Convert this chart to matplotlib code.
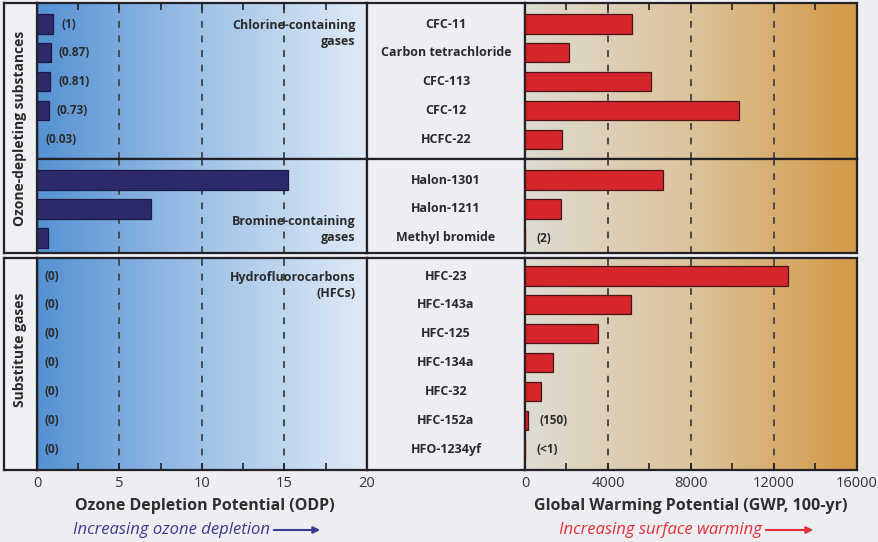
import numpy as np
import matplotlib
matplotlib.use("Agg")
import matplotlib.pyplot as plt
from matplotlib.colors import LinearSegmentedColormap

plt.rcParams['font.family'] = ['Open Sans', 'DejaVu Sans']

# ---------------- data ----------------
cl_names = ["CFC-11", "Carbon tetrachloride", "CFC-113", "CFC-12", "HCFC-22"]
cl_odp = [1.0, 0.87, 0.81, 0.73, 0.03]
cl_odp_labels = ["(1)", "(0.87)", "(0.81)", "(0.73)", "(0.03)"]
cl_gwp = [5160, 2110, 6060, 10300, 1780]
cl_gwp_labels = ["", "", "", "", ""]

br_names = ["Halon-1301", "Halon-1211", "Methyl bromide"]
br_odp = [15.2, 6.9, 0.66]
br_odp_labels = ["", "", ""]
br_gwp = [6670, 1750, 2]
br_gwp_labels = ["", "", "(2)"]

hfc_names = ["HFC-23", "HFC-143a", "HFC-125", "HFC-134a", "HFC-32", "HFC-152a", "HFO-1234yf"]
hfc_odp = [0, 0, 0, 0, 0, 0, 0]
hfc_odp_labels = ["(0)"] * 7
hfc_gwp = [12690, 5100, 3500, 1360, 750, 150, 1]
hfc_gwp_labels = ["", "", "", "", "", "(150)", "(<1)"]

group_labels = ["Chlorine-containing\ngases", "Bromine-containing\ngases", "Hydrofluorocarbons\n(HFCs)"]
side_labels = ["Ozone-depleting substances", "Substitute gases"]
odp_ticks = [0, 5, 10, 15, 20]
gwp_ticks = [0, 4000, 8000, 12000, 16000]

# ---------------- layout ----------------
W, H = 879, 542
fig = plt.figure(figsize=(W / 100, H / 100), dpi=100)
fig.patch.set_facecolor('#ededf2')


def rect(x0, y0, x1, y1):
    return [x0 / W, 1 - y1 / H, (x1 - x0) / W, (y1 - y0) / H]


XL0, XL1 = 4, 37
XO1 = 367
XG0, XG1 = 525, 857
panels = [
    dict(y0=3, y1=159, first=24, pitch=28.8, names=cl_names, odp=cl_odp, odpl=cl_odp_labels,
         gwp=cl_gwp, gwpl=cl_gwp_labels, group=group_labels[0], gpos='top'),
    dict(y0=159, y1=253, first=180, pitch=29.0, names=br_names, odp=br_odp, odpl=br_odp_labels,
         gwp=br_gwp, gwpl=br_gwp_labels, group=group_labels[1], gpos='bottom'),
    dict(y0=258, y1=470, first=276, pitch=28.9, names=hfc_names, odp=hfc_odp, odpl=hfc_odp_labels,
         gwp=hfc_gwp, gwpl=hfc_gwp_labels, group=group_labels[2], gpos='top'),
]

blue_cmap = LinearSegmentedColormap.from_list('b', ['#5591d2', '#9fc2e8', '#e0eaf6'])
tan_cmap = LinearSegmentedColormap.from_list('t', ['#dedcd3', '#dcc39a', '#d39946'])
grad = np.linspace(0, 1, 256).reshape(1, -1)

EDGE = '#222228'
LW = 1.6
TXT = '#2a2a2a'
DASH = '#4a4a4a'
NAVY = '#2d2a6c'
RED = '#d5262b'
WT = 'bold'


def style_spines(ax):
    for s in ax.spines.values():
        s.set_color(EDGE)
        s.set_linewidth(LW)


for i, p in enumerate(panels):
    n = len(p['names'])
    ylim = ((p['y1'] - p['first']) / p['pitch'], -(p['first'] - p['y0']) / p['pitch'])
    ypos = np.arange(n)

    # ----- ODP axes -----
    ax = fig.add_axes(rect(XL1, p['y0'], XO1, p['y1']))
    ax.imshow(grad, cmap=blue_cmap, aspect='auto', extent=[0, 20, ylim[0], ylim[1]], zorder=0)
    ax.set_xlim(0, 20)
    ax.set_ylim(*ylim)
    for v in [5, 10, 15]:
        ax.axvline(v, color=DASH, lw=1.4, ls=(0, (3.5, 4)), zorder=1)
    ax.barh(ypos, p['odp'], height=0.66, color=NAVY, edgecolor='#1c1a45', lw=0.9, zorder=3)
    for y, v, lab in zip(ypos, p['odp'], p['odpl']):
        if lab:
            ax.annotate(lab, (v, y), xytext=(5.5, 0), textcoords='offset points',
                        ha='left', va='center', fontsize=8.5, fontweight=WT, color=TXT, zorder=4)
    if p['gpos'] == 'top':
        gy = 0.33
    else:
        gy = n - 1 - 0.3
    ax.text(19.3, gy, p['group'], ha='right', va='center', fontsize=9, fontweight=WT,
            color=TXT, linespacing=1.25, zorder=4)
    style_spines(ax)
    ax.set_yticks([])
    ax.set_xticks(odp_ticks)
    ax.set_xticks(np.arange(2.5, 20, 5), minor=True)
    if i == 2:
        ax.tick_params(axis='x', which='both', direction='in', length=5, width=1.2,
                       color=EDGE, labelsize=10.5, labelcolor='#333333', pad=4)
    elif i == 0:
        ax.tick_params(axis='x', which='both', direction='in', length=5, width=1.2,
                       color=EDGE, bottom=False, top=True, labelbottom=False)
    else:
        ax.tick_params(axis='x', which='both', bottom=False, labelbottom=False)

    # ----- middle labels -----
    axm = fig.add_axes(rect(XO1, p['y0'], XG0, p['y1']))
    axm.set_facecolor('#edeef3')
    axm.set_xlim(0, 1)
    axm.set_ylim(*ylim)
    for y, name in zip(ypos, p['names']):
        axm.text(0.5, y, name, ha='center', va='center', fontsize=9,
                 fontweight=WT, color=TXT)
    style_spines(axm)
    axm.set_xticks([])
    axm.set_yticks([])

    # ----- GWP axes -----
    axg = fig.add_axes(rect(XG0, p['y0'], XG1, p['y1']))
    axg.imshow(grad, cmap=tan_cmap, aspect='auto', extent=[0, 16000, ylim[0], ylim[1]], zorder=0)
    axg.set_xlim(0, 16000)
    axg.set_ylim(*ylim)
    for v in [4000, 8000, 12000]:
        axg.axvline(v, color=DASH, lw=1.4, ls=(0, (3.5, 4)), zorder=1)
    axg.barh(ypos, p['gwp'], height=0.66, color=RED, edgecolor='#4a1414', lw=0.9, zorder=3)
    for y, v, lab in zip(ypos, p['gwp'], p['gwpl']):
        if lab:
            axg.annotate(lab, (v, y), xytext=(8, 0), textcoords='offset points',
                         ha='left', va='center', fontsize=8.5, fontweight=WT, color=TXT, zorder=4)
    style_spines(axg)
    axg.set_yticks([])
    axg.set_xticks(gwp_ticks)
    axg.set_xticks(np.arange(2000, 16000, 4000), minor=True)
    if i == 2:
        axg.tick_params(axis='x', which='both', direction='in', length=5, width=1.2,
                        color=EDGE, labelsize=10.5, labelcolor='#333333', pad=4)
    elif i == 0:
        axg.tick_params(axis='x', which='both', direction='in', length=5, width=1.2,
                        color=EDGE, bottom=False, top=True, labelbottom=False)
    else:
        axg.tick_params(axis='x', which='both', bottom=False, labelbottom=False)

# ----- left side label column -----
for (y0, y1, yc), lab in zip([(3, 253, 128), (258, 470, 350)], side_labels):
    axl = fig.add_axes(rect(XL0, y0, XL1, y1))
    axl.set_facecolor('#eef0f4')
    axl.set_xticks([])
    axl.set_yticks([])
    style_spines(axl)
    fig.text((XL0 + XL1) / 2 / W, 1 - yc / H, lab, rotation=90, ha='center', va='center',
             fontsize=10, fontweight=WT, color=TXT)

# ----- bottom axis titles -----
fig.text(205 / W, 1 - 506 / H, "Ozone Depletion Potential (ODP)", ha='center', va='center',
         fontsize=11.5, fontweight=WT, color='#2e2e2e')
fig.text(691 / W, 1 - 506 / H, "Global Warming Potential (GWP, 100-yr)", ha='center', va='center',
         fontsize=11.5, fontweight=WT, color='#2e2e2e')

fig.text(270 / W, 1 - 530 / H, "Increasing ozone depletion", ha='right', va='center',
         fontsize=12, style='italic', color='#3d3a8f')
fig.patches.append(matplotlib.patches.FancyArrowPatch(
    (271 / W, 1 - 530 / H), (323 / W, 1 - 530 / H), transform=fig.transFigure,
    arrowstyle='-|>', mutation_scale=10, color='#3d3a8f', lw=1.5))
fig.text(762 / W, 1 - 530 / H, "Increasing surface warming", ha='right', va='center',
         fontsize=12, style='italic', color='#e0303a')
fig.patches.append(matplotlib.patches.FancyArrowPatch(
    (763 / W, 1 - 530 / H), (816 / W, 1 - 530 / H), transform=fig.transFigure,
    arrowstyle='-|>', mutation_scale=10, color='#e0303a', lw=1.5))

fig.savefig('out.png', dpi=100, facecolor=fig.get_facecolor())
